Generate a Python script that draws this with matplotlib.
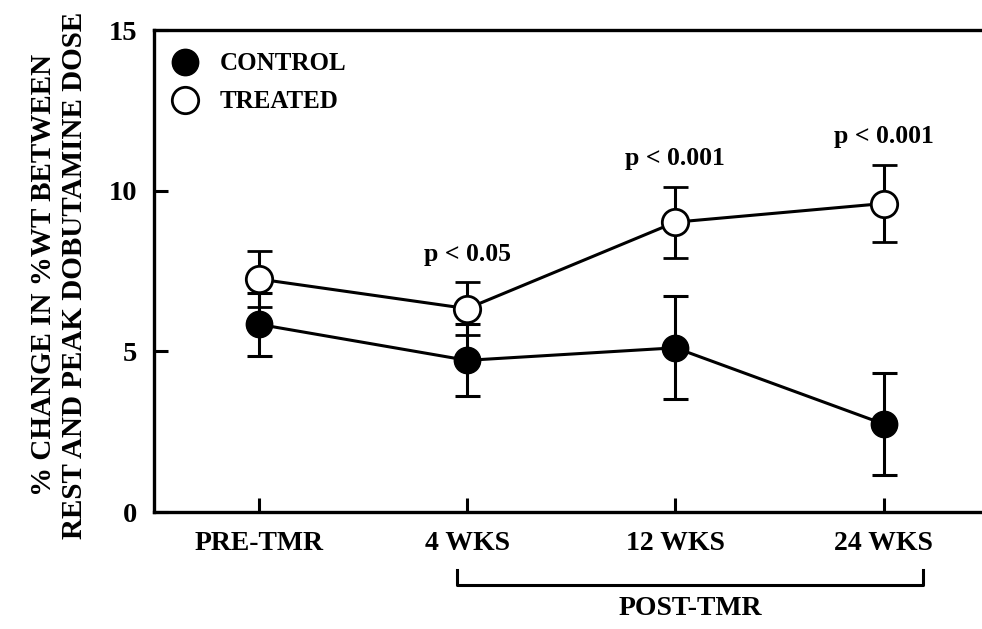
import matplotlib
matplotlib.use('Agg')
import matplotlib.pyplot as plt
from matplotlib.lines import Line2D
import numpy as np

# Data
timepoints = ['PRE-TMR', '4 WKS', '12 WKS', '24 WKS']
control_mean = [5.84, 4.72, 5.11, 2.74]
control_err = [0.99, 1.12, 1.6, 1.6]
treated_mean = [7.25, 6.33, 9.02, 9.6]
treated_err = [0.88, 0.82, 1.1, 1.2]
p_labels = ['', 'p < 0.05', 'p < 0.001', 'p < 0.001']
y_ticks = [0, 5, 10, 15]

plt.rcParams['font.family'] = ['Liberation Serif', 'DejaVu Serif']
plt.rcParams['font.weight'] = 'bold'

fig = plt.figure(figsize=(9.82, 6.29), dpi=100)
ax = fig.add_axes([154 / 982, 1 - 512 / 629, 1 - 154 / 982 + 0.01, (512 - 30) / 629])

x = np.arange(len(timepoints))

# control: filled circles
ax.errorbar(x, control_mean, yerr=control_err, color='black', lw=2.2,
            elinewidth=2.2, capsize=9, capthick=2.2, marker='o', ms=19,
            mfc='black', mec='black', zorder=3)
# treated: open circles
ax.errorbar(x, treated_mean, yerr=treated_err, color='black', lw=2.2,
            elinewidth=2.2, capsize=9, capthick=2.2, marker='o', ms=19,
            mfc='white', mec='black', mew=2, zorder=4)

# significance labels above the treated error bars
for xi, m, e, lab in zip(x, treated_mean, treated_err, p_labels):
    if lab:
        ax.annotate(lab, (xi, m + e), xytext=(0, 12), textcoords='offset points',
                    ha='center', va='bottom', fontsize=18.5, fontweight='bold')

ax.set_xlim(-0.504, 3.47 + 0.05)
ax.set_ylim(0, 15)
ax.set_xticks(x)
ax.set_xticklabels(timepoints, fontsize=20, fontweight='bold')
ax.set_yticks(y_ticks)
ax.set_yticklabels([str(t) for t in y_ticks], fontsize=20.5, fontweight='bold')
ax.tick_params(direction='in', length=10, width=2.2)
ax.tick_params(axis='x', pad=14)
ax.tick_params(axis='y', pad=12)

for s in ['left', 'bottom', 'top']:
    ax.spines[s].set_linewidth(2.4)
ax.spines['right'].set_visible(False)

# legend
handles = [Line2D([], [], ls='none', marker='o', ms=19, mfc='black', mec='black'),
           Line2D([], [], ls='none', marker='o', ms=19, mfc='white', mec='black', mew=2)]
ax.legend(handles, ['CONTROL', 'TREATED'], loc='upper left', frameon=False,
          prop={'size': 18, 'weight': 'bold'}, handletextpad=0.38,
          labelspacing=0.6, borderaxespad=0.3, bbox_to_anchor=(-0.014, 0.99))

# POST-TMR bracket below the axis
trans = ax.get_xaxis_transform()
bx0, bx1 = 0.95, 3.19
ax.plot([bx0, bx0, bx1, bx1], [-0.12, -0.152, -0.152, -0.12], color='black',
        lw=2.2, transform=trans, clip_on=False)
ax.text((bx0 + bx1) / 2, -0.20, 'POST-TMR', transform=trans, ha='center',
        va='center', fontsize=20, fontweight='bold')

fig.text(59 / 982, 1 - 275 / 629,
         '% CHANGE IN %WT BETWEEN\nREST AND PEAK DOBUTAMINE DOSE',
         rotation=90, ha='center', va='center', fontsize=21, fontweight='bold',
         linespacing=1.15)

fig.savefig('out.png', dpi=100)
